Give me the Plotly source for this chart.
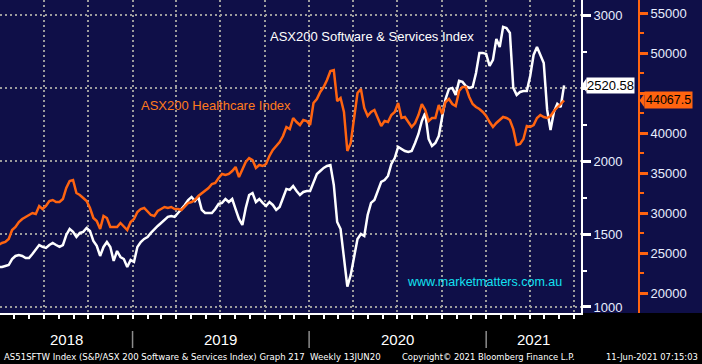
import pandas as pd
import plotly.graph_objects as go

# ---------------- data (weekly closes) ----------------
END_DATE = "2021-06-11"

software = [
    1274, 1274, 1281, 1288, 1329, 1350, 1357, 1350, 1336, 1336,
    1364, 1398, 1425, 1412, 1405, 1425, 1439, 1425, 1412, 1425,
    1494, 1535, 1515, 1480, 1508, 1515, 1542, 1521, 1453, 1419,
    1350, 1412, 1446, 1412, 1316, 1384, 1343, 1329, 1274, 1322,
    1309, 1412, 1446, 1467, 1480, 1508, 1535, 1556, 1576, 1597,
    1618, 1624, 1618, 1645, 1672, 1700, 1734, 1755, 1727, 1755,
    1666, 1645, 1645, 1645, 1672, 1707, 1714, 1741, 1720, 1741,
    1672, 1604, 1563, 1679, 1768, 1782, 1720, 1741, 1714, 1693,
    1720, 1700, 1666, 1686, 1748, 1810, 1803, 1830, 1796, 1768,
    1789, 1796, 1796, 1858, 1912, 1933, 1954, 1967, 1974, 1837,
    1583, 1535, 1336, 1140, 1220, 1336, 1467, 1501, 1487, 1631,
    1714, 1734, 1803, 1858, 1871, 1899, 1981, 2022, 2098, 2084,
    2070, 2063, 2070, 2125, 2187, 2276, 2331, 2153, 2105, 2125,
    2173, 2304, 2427, 2496, 2503, 2455, 2551, 2544, 2516, 2503,
    2509, 2605, 2743, 2743, 2736, 2654, 2695, 2839, 2784, 2921,
    2914, 2880, 2503, 2455, 2475, 2482, 2482, 2585, 2729, 2784,
    2722, 2674, 2352, 2214, 2338, 2393, 2372, 2520.58,
]

healthcare = [
    26000, 26250, 26375, 26750, 27875, 28250, 28875, 29250, 29500, 29750,
    30000, 29875, 30875, 30500, 30875, 31500, 31625, 31375, 31375, 31750,
    33125, 34000, 34125, 32500, 32250, 31875, 31500, 30625, 29375, 29000,
    28000, 29625, 29375, 28250, 28250, 28250, 28750, 28375, 27875, 28875,
    29250, 30125, 30500, 30625, 30125, 29750, 29625, 30250, 30500, 30750,
    30625, 30750, 30500, 30500, 30375, 30875, 31250, 31375, 31625, 32125,
    32500, 32750, 33125, 33625, 33750, 34375, 34875, 34750, 34875, 35250,
    35750, 34500, 35375, 36375, 36875, 36625, 35625, 36000, 35875, 36125,
    37125, 37875, 38375, 38875, 39625, 40750, 40500, 41875, 41375, 41000,
    41625, 41500, 41000, 43750, 44250, 45125, 45750, 46625, 47750, 47875,
    44000, 44375, 42625, 37750, 38750, 42250, 45000, 45500, 43125, 42125,
    42625, 42875, 41875, 40875, 41500, 41375, 42250, 42625, 43750, 41875,
    42000, 41375, 40750, 41250, 42250, 43625, 42875, 41500, 41875, 41875,
    43500, 42375, 43875, 44250, 43625, 43375, 45250, 45750, 45750, 44500,
    43625, 43250, 43000, 42625, 42125, 41375, 40750, 41250, 41625, 42000,
    41875, 41625, 40500, 38500, 38625, 39250, 40875, 40750, 41000, 41875,
    42250, 42000, 41875, 42125, 42750, 43250, 43625, 44067.5,
]

sw_ticks = [1000, 1500, 2000, 2500, 3000]
sw_ticktext = ["1000", "1500", "2000", "", "3000"]
sw_minor = [1250, 1750, 2250, 2750]
hc_ticks = [20000, 25000, 30000, 35000, 40000, 45000, 50000, 55000]
hc_ticktext = ["20000", "25000", "30000", "35000", "40000", "", "50000", "55000"]
hc_minor = [22500, 27500, 32500, 37500, 42500, 47500, 52500]
years = [2018, 2019, 2020, 2021]

SW_NAME = "ASX200 Software & Services Index"
HC_NAME = "ASX200 Healthcare Index"
WATERMARK = "www.marketmatters.com.au"
FOOT_LEFT = "AS51SFTW Index (S&P/ASX 200 Software & Services Index) Graph 217\u00a0 Weekly 13JUN20"
FOOT_MID = "Copyright\u00a9 2021 Bloomberg Finance L.P."
FOOT_RIGHT = "11-Jun-2021 07:15:03"

# ---------------- styling ----------------
NAVY = "#0f0f48"
ORANGE = "#ff6410"
ORANGE_TXT = "#ff7b1c"
CYAN = "#12e2f2"
GRID = "#9c9c9c"
LABEL = "#e8eeff"
SANS = "Liberation Sans, Arial, sans-serif"
NARROW = "Liberation Sans Narrow, Arial Narrow, Liberation Sans, Arial, sans-serif"
FOOT_FONT = "DejaVu Sans, Verdana, sans-serif"

W, H = 702, 364
PLOT_W = 642          # width of plotting area (margin r = 60)
PLOT_H = 313
X_END_PX = 581        # end of the x-axis domain
X_RANGE = ["2018-04-02", "2021-07-16"]
SW_RANGE = [958.8, 3106]
HC_RANGE = [17500, 56625]

dates_sw = pd.date_range(end=END_DATE, periods=len(software), freq="7D")
dates_hc = pd.date_range(end=END_DATE, periods=len(healthcare), freq="7D")

fig = go.Figure()
fig.add_trace(go.Scatter(x=dates_sw, y=software, mode="lines", name=SW_NAME,
                         line=dict(color="white", width=2.5), yaxis="y"))
fig.add_trace(go.Scatter(x=dates_hc, y=healthcare, mode="lines", name=HC_NAME,
                         line=dict(color=ORANGE, width=2.5), yaxis="y2"))

def px_x(p):
    return p / PLOT_W

def px_y(p):
    return 1 - p / PLOT_H

sw_last = software[-1]
hc_last = healthcare[-1]

annotations = [
    dict(text=SW_NAME, x=px_x(372), y=px_y(37), xref="paper", yref="paper",
         xanchor="center", yanchor="middle",
         showarrow=False, font=dict(family=SANS, size=13, color="white")),
    dict(text=HC_NAME, x=px_x(216), y=px_y(106), xref="paper", yref="paper",
         xanchor="center", yanchor="middle",
         showarrow=False, font=dict(family=SANS, size=13, color=ORANGE_TXT)),
    dict(text=WATERMARK, x=px_x(484), y=px_y(282), xref="paper", yref="paper",
         xanchor="center", yanchor="middle",
         showarrow=False, font=dict(family=SANS, size=12.5, color=CYAN)),
    # last value boxes
    dict(text=f"{sw_last:.2f}", x=px_x(586), y=sw_last, xref="paper", yref="y",
         xanchor="left", yanchor="middle", showarrow=False, bgcolor="white",
         borderpad=0, font=dict(family=SANS, size=13, color="black")),
    dict(text=f"{hc_last:.1f}", x=px_x(644), y=hc_last, xref="paper", yref="y2",
         xanchor="left", yanchor="middle", showarrow=False, bgcolor=ORANGE,
         borderpad=1, font=dict(family=SANS, size=12.5, color="black")),
    # footer
    dict(text=FOOT_LEFT, x=px_x(2), y=px_y(357), xref="paper", yref="paper",
         xanchor="left", yanchor="middle", showarrow=False,
         font=dict(family=FOOT_FONT, size=8.55, color="white")),
    dict(text=FOOT_MID, x=px_x(577), y=px_y(357), xref="paper", yref="paper",
         xanchor="right", yanchor="middle", showarrow=False,
         font=dict(family=FOOT_FONT, size=8.4, color="white")),
    dict(text=FOOT_RIGHT, x=px_x(700), y=px_y(357), xref="paper", yref="paper",
         xanchor="right", yanchor="middle", showarrow=False,
         font=dict(family=FOOT_FONT, size=8.4, color="white")),
]

# year labels centred on visible part of each year
x0 = pd.Timestamp(X_RANGE[0])
x1 = pd.Timestamp(X_RANGE[1])
shapes = [
    dict(type="rect", xref="paper", yref="paper", x0=0, x1=W / PLOT_W,
         y0=-(H - PLOT_H) / PLOT_H, y1=0, fillcolor="black", line=dict(width=0),
         layer="below"),
]

# pointer tips of the last-value boxes
sw_half = 7 * (SW_RANGE[1] - SW_RANGE[0]) / PLOT_H
hc_half = 7 * (HC_RANGE[1] - HC_RANGE[0]) / PLOT_H
shapes.append(dict(type="path", xref="paper", yref="y", layer="above",
                   path=f"M {px_x(581.5)} {sw_last} L {px_x(586.5)} {sw_last + sw_half} "
                        f"L {px_x(586.5)} {sw_last - sw_half} Z",
                   fillcolor="white", line=dict(width=0)))
shapes.append(dict(type="path", xref="paper", yref="y2", layer="above",
                   path=f"M {px_x(639.5)} {hc_last} L {px_x(644.5)} {hc_last + hc_half} "
                        f"L {px_x(644.5)} {hc_last - hc_half} Z",
                   fillcolor=ORANGE, line=dict(width=0)))

for yr in years:
    a = max(x0, pd.Timestamp(f"{yr}-01-01"))
    b = min(x1, pd.Timestamp(f"{yr + 1}-01-01"))
    mid = a + (b - a) / 2
    annotations.append(dict(text=str(yr), x=mid, y=px_y(339), xref="x", yref="paper",
                            showarrow=False, xanchor="center", yanchor="middle",
                            font=dict(family=NARROW, size=15, color="white")))
    if yr > years[0]:
        shapes.append(dict(type="line", xref="x", yref="paper",
                           x0=f"{yr}-01-01", x1=f"{yr}-01-01",
                           y0=px_y(348), y1=px_y(331),
                           line=dict(color="#8c8c8c", width=1.5)))

fig.update_layout(
    width=W, height=H, autosize=False,
    margin=dict(l=0, r=W - PLOT_W, t=0, b=H - PLOT_H, pad=0),
    paper_bgcolor=NAVY, plot_bgcolor=NAVY,
    showlegend=False,
    annotations=annotations,
    shapes=shapes,
    xaxis=dict(
        type="date", range=X_RANGE, domain=[0, X_END_PX / PLOT_W],
        showgrid=True, gridcolor=GRID, gridwidth=2, griddash="2px,3px",
        dtick="M3", tick0="2018-01-01",
        ticks="outside", ticklen=4, tickwidth=1.5, tickcolor="white",
        minor=dict(dtick="M1", tick0="2018-01-01", ticks="outside", ticklen=4,
                   tickwidth=1.5, tickcolor="white", showgrid=False),
        showticklabels=False, showline=True, linecolor="white", linewidth=1.5,
        zeroline=False,
    ),
    yaxis=dict(
        side="right", anchor="x", range=SW_RANGE,
        tickmode="array", tickvals=sw_ticks, ticktext=sw_ticktext,
        showgrid=True, gridcolor=GRID, gridwidth=2, griddash="2px,3px",
        ticks="outside", ticklen=8, tickwidth=3, tickcolor="white",
        minor=dict(tickmode="array", tickvals=sw_minor, ticks="outside",
                   ticklen=4, tickwidth=1.5, tickcolor="white", showgrid=False),
        tickfont=dict(family=SANS, size=13, color=LABEL),
        showline=True, linecolor="white", linewidth=2, zeroline=False,
    ),
    yaxis2=dict(
        overlaying="y", side="right", anchor="free", position=639 / PLOT_W,
        range=HC_RANGE,
        tickmode="array", tickvals=hc_ticks, ticktext=hc_ticktext,
        showgrid=False,
        ticks="outside", ticklen=8, tickwidth=3, tickcolor=ORANGE,
        minor=dict(tickmode="array", tickvals=hc_minor, ticks="outside",
                   ticklen=4, tickwidth=1.5, tickcolor=ORANGE, showgrid=False),
        tickfont=dict(family=SANS, size=13, color=LABEL),
        showline=True, linecolor=ORANGE, linewidth=2, zeroline=False,
    ),
)

fig.write_html(
    "out.html",
    config={"displayModeBar": False},
    post_script="document.body.style.margin='0';document.body.style.padding='0';"
                "document.body.style.overflow='hidden';",
)
